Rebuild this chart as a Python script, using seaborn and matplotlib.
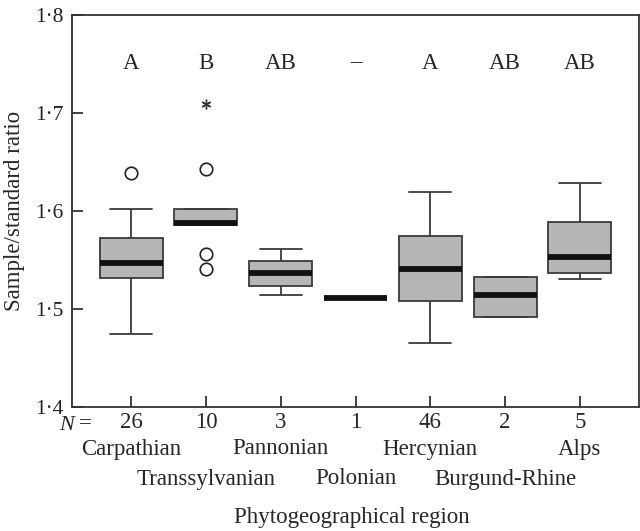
import matplotlib
matplotlib.use("Agg")
import matplotlib.pyplot as plt
import seaborn as sns
import pandas as pd
from matplotlib.transforms import blended_transform_factory
from matplotlib.ticker import FixedLocator, FuncFormatter

# ---- data ----
regions = ["Carpathian", "Transsylvanian", "Pannonian", "Polonian",
           "Hercynian", "Burgund-Rhine", "Alps"]
n_labels = ["26", "10", "3", "1", "46", "2", "5"]
group_letters = ["A", "B", "AB", "\u2013", "A", "AB", "AB"]

# observation sets that reproduce the plotted box statistics
carpathian = [1.475, 1.532, 1.532, 1.547, 1.547, 1.572, 1.572, 1.602, 1.639]
transsylvanian = [1.5405, 1.5557, 1.586, 1.587, 1.588, 1.595, 1.602, 1.602, 1.6426]
pannonian = [1.514, 1.5235, 1.5364, 1.549, 1.5615]
polonian = [1.511]
hercynian = [1.4658, 1.5082, 1.5412, 1.5744, 1.6195]
burgund_rhine = [1.4923, 1.4923, 1.514, 1.533, 1.533]
alps = [1.531, 1.537, 1.5534, 1.5886, 1.6283]

# extreme value (drawn as asterisk)
extreme_region = ["Transsylvanian"]
extreme_value = [1.709]

y_ticks = [1.4, 1.5, 1.6, 1.7, 1.8]

groups = [carpathian, transsylvanian, pannonian, polonian,
          hercynian, burgund_rhine, alps]
df = pd.DataFrame({
    "region": [r for r, g in zip(regions, groups) for _ in g],
    "ratio": [v for g in groups for v in g],
})

# ---- style ----
sns.set_style("ticks")
plt.rcParams["font.family"] = ["Liberation Serif", "DejaVu Serif"]
FS = 16.5
YFS = 15.5
plt.rcParams["font.size"] = FS

fig = plt.figure(figsize=(6.4, 5.31), dpi=100)
ax = fig.add_axes([72 / 640, 1 - 407 / 531, 567 / 640, 392 / 531])

edge = "#3a3a3a"
sns.boxplot(data=df, x="region", y="ratio", order=regions, ax=ax,
            width=0.84, color="#b6b6b6", saturation=1, linecolor=edge,
            linewidth=1.3, whis=1.5, capwidths=0.56,
            medianprops=dict(color="#111111", linewidth=4.2),
            flierprops=dict(marker="o", markersize=9, markerfacecolor="none",
                            markeredgecolor="#222222", markeredgewidth=1.2))

for r, v in zip(extreme_region, extreme_value):
    ax.plot([regions.index(r)], [v], linestyle="none", marker=(6, 2, 0),
            markersize=7, color="#333333", markeredgewidth=1.0)

for i, let in enumerate(group_letters):
    ax.text(i, 1.751, let, ha="center", va="center", fontsize=FS)

ax.set_xlim(-0.79, 6.79)
ax.set_ylim(1.4, 1.8)
ax.yaxis.set_major_locator(FixedLocator(y_ticks))
ax.yaxis.set_major_formatter(FuncFormatter(lambda v, p: f"{v:.1f}".replace(".", "\u00b7")))
ax.set_xticks(range(len(regions)))
ax.set_xticklabels([])
ax.tick_params(direction="in", length=8, width=1.2, top=False, right=False,
               colors="#222222")
ax.tick_params(axis="y", pad=6, labelsize=YFS)
for s in ax.spines.values():
    s.set_visible(True)
    s.set_linewidth(1.3)
    s.set_color("#333333")
ax.set_xlabel("")
ax.set_ylabel("")

tr = blended_transform_factory(ax.transData, fig.transFigure)

# N row
fig.text(74 / 640, 1 - 425 / 531, "N", style="italic", ha="right", va="center", fontsize=FS - 0.5)
fig.text(92 / 640, 1 - 424 / 531, "=", ha="right", va="center", fontsize=FS)
for i, n in enumerate(n_labels):
    ax.text(i, 1 - 423 / 531, n, transform=tr, ha="center", va="center", fontsize=FS)

# region names in two staggered rows
for i, name in enumerate(regions):
    yrow = 1 - (449 if i % 2 == 0 else 479) / 531
    ax.text(i, yrow, name, transform=tr, ha="center", va="center", fontsize=FS)

fig.text(352 / 640, 1 - 518 / 531, "Phytogeographical region", ha="center", va="center", fontsize=FS)
fig.text(15 / 640, 1 - 211 / 531, "Sample/standard ratio", rotation=90, ha="center", va="center", fontsize=FS)

fig.savefig("out.png", dpi=100)
